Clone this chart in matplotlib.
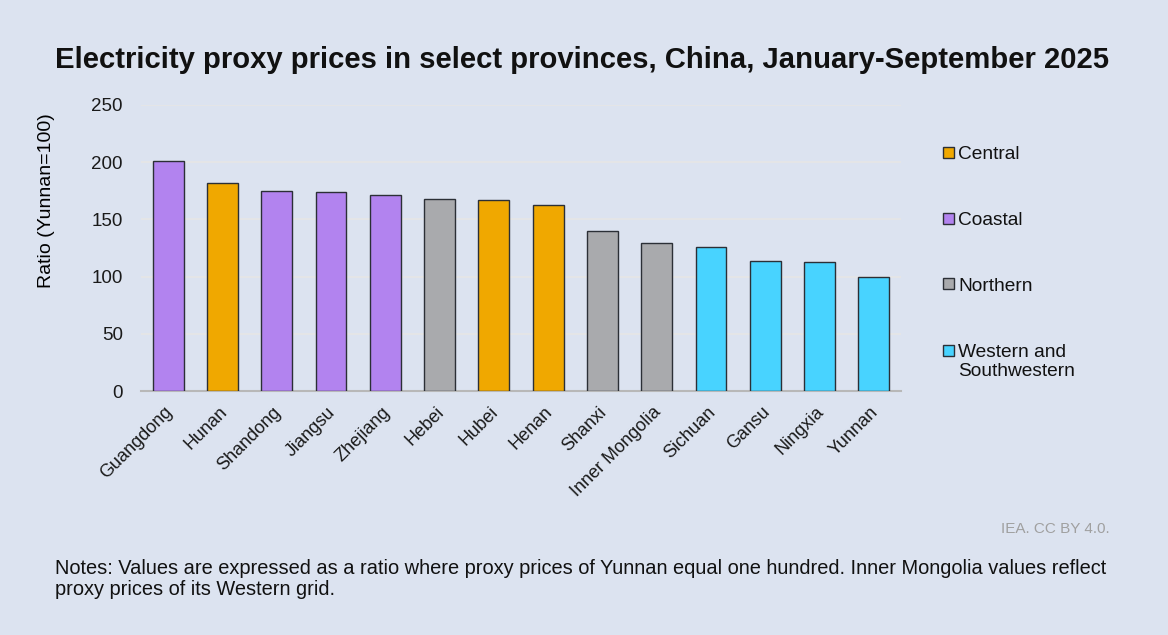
import matplotlib.pyplot as plt
from matplotlib.patches import Rectangle
from matplotlib.transforms import ScaledTranslation

provinces = [
    "Guangdong", "Hunan", "Shandong", "Jiangsu", "Zhejiang", "Hebei", "Hubei",
    "Henan", "Shanxi", "Inner Mongolia", "Sichuan", "Gansu", "Ningxia", "Yunnan",
]
ratio = [201, 182, 175, 174, 171, 168, 167, 163, 140, 129, 126, 114, 113, 100]
region = [
    "Coastal", "Central", "Coastal", "Coastal", "Coastal", "Northern", "Central",
    "Central", "Northern", "Northern", "Western and\nSouthwestern",
    "Western and\nSouthwestern", "Western and\nSouthwestern",
    "Western and\nSouthwestern",
]
region_names = ["Central", "Coastal", "Northern", "Western and\nSouthwestern"]
region_colors = ["#f0a800", "#b283ef", "#a9aaad", "#48d3ff"]
y_ticks = [0, 50, 100, 150, 200, 250]

BG = "#dce3f0"
EDGE = "#2b2f36"
W, H = 1168, 635
plt.rcParams["font.family"] = ["Liberation Sans", "DejaVu Sans"]

fig = plt.figure(figsize=(W / 100, H / 100), dpi=100, facecolor=BG)
ax = fig.add_axes([141 / W, 1 - 391 / H, 760 / W, 286 / H])
ax.set_facecolor(BG)

color_of = dict(zip(region_names, region_colors))
ax.bar(
    range(len(provinces)),
    ratio,
    width=0.57,
    color=[color_of[r] for r in region],
    edgecolor=EDGE,
    linewidth=1.0,
    zorder=3,
)

ax.set_ylim(0, 250)
ax.set_xlim(-0.5, len(provinces) - 0.5)
ax.set_yticks(y_ticks)
ax.set_yticklabels([str(t) for t in y_ticks], fontsize=13.5)
ax.yaxis.grid(True, color="#e6e6e6", linewidth=1.2, zorder=0)
ax.tick_params(axis="both", length=0, labelcolor="#1a1a1a")
ax.tick_params(axis="y", pad=13)
ax.set_xticks(range(len(provinces)))
ax.set_xticklabels(
    provinces, rotation=45, ha="right", va="top", rotation_mode="anchor", fontsize=13
)
ax.tick_params(axis="x", pad=9)
shift = ScaledTranslation(-4 / 100, 0, fig.dpi_scale_trans)
for label in ax.get_xticklabels():
    label.set_transform(label.get_transform() + shift)
for side in ["top", "right", "left"]:
    ax.spines[side].set_visible(False)
ax.spines["bottom"].set_color("#b8b8b8")
ax.spines["bottom"].set_linewidth(1.5)
ax.set_ylabel("Ratio (Yunnan=100)", fontsize=14)
ax.yaxis.set_label_coords((55 - 141) / 760, (391 - 201) / 286)

# legend drawn by hand so the swatch sits on the first line of each label
legend_y = [152, 218, 284, 350]
for name, color, y in zip(region_names, region_colors, legend_y):
    fig.add_artist(Rectangle(
        (943 / W, 1 - (y + 5.5) / H), 11 / W, 11 / H,
        facecolor=color, edgecolor=EDGE, linewidth=1.0, transform=fig.transFigure,
    ))
    fig.text(958 / W, 1 - (y - 6) / H, name, fontsize=13.8, color="#111111",
             ha="left", va="top", linespacing=1.15)

fig.text(55 / W, 1 - 60 / H,
         "Electricity proxy prices in select provinces, China, January-September 2025",
         fontsize=21.1, fontweight="bold", va="center", ha="left", color="#111111")
fig.text(1110 / W, 1 - 529 / H, "IEA. CC BY 4.0.", fontsize=11,
         color="#a0a0a0", ha="right", va="center")
fig.text(55 / W, 1 - 579 / H,
         "Notes: Values are expressed as a ratio where proxy prices of Yunnan equal one "
         "hundred. Inner Mongolia values reflect\nproxy prices of its Western grid.",
         fontsize=14.4, color="#111111", ha="left", va="center", linespacing=1.1)

fig.savefig("out.png", dpi=100, facecolor=BG)
